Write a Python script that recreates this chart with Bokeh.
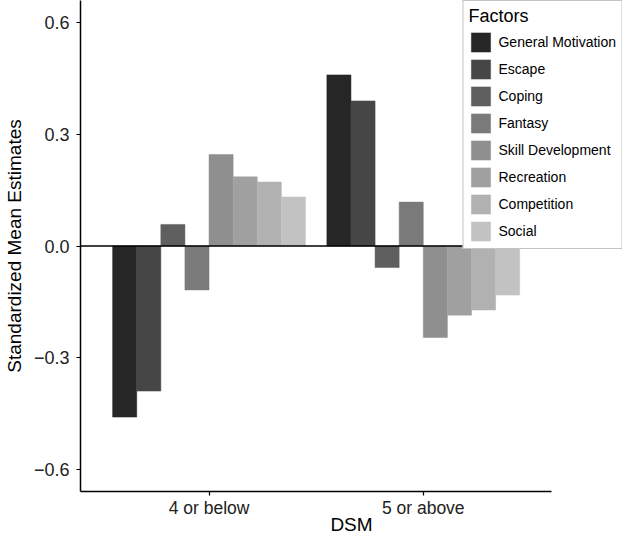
from bokeh.plotting import figure
from bokeh.models import (Range1d, FixedTicker, CustomJSTickFormatter,
                          ColumnDataSource)
from bokeh.transform import dodge
from bokeh.embed import file_html
from bokeh.resources import INLINE

# ---- data ----
dsm_groups = ["4 or below", "5 or above"]
factors = ["General Motivation", "Escape", "Coping", "Fantasy",
           "Skill Development", "Recreation", "Competition", "Social"]
values_4_or_below = [-0.46, -0.39, 0.058, -0.118, 0.246, 0.186, 0.172, 0.132]
values_5_or_above = [0.46, 0.39, -0.058, 0.118, -0.246, -0.186, -0.172, -0.132]
y_ticks = [-0.6, -0.3, 0.0, 0.3, 0.6]
fill_colors = ["#262626", "#464646", "#5f5f5f", "#7a7a7a",
               "#8f8f8f", "#a0a0a0", "#b1b1b1", "#c2c2c2"]

FONT = "Liberation Sans"

group_pos = list(range(1, len(dsm_groups) + 1))   # discrete positions 1, 2
data = {"pos": group_pos}
for i in range(len(factors)):
    data[f"f{i}"] = [values_4_or_below[i], values_5_or_above[i]]
src = ColumnDataSource(data)

x_lo, x_hi = 0.4, len(dsm_groups) + 0.6          # ggplot-style discrete expansion
p = figure(
    x_range=Range1d(x_lo, x_hi + 0.33),
    y_range=Range1d(-0.66, 0.66),
    width=622, height=537,
    output_backend="svg", toolbar_location=None,
    min_border_left=76, min_border_right=0, min_border_top=0, min_border_bottom=30,
)

n = len(factors)
dodge_total = 0.9
bar_w = dodge_total / n
for i, f in enumerate(factors):
    off = -dodge_total / 2 + bar_w * (i + 0.5)
    p.vbar(x=dodge("pos", off), top=f"f{i}", bottom=0,
           width=bar_w, source=src, fill_color=fill_colors[i],
           line_color=fill_colors[i], line_width=0.5, legend_label=f)

# zero reference line across the panel
p.segment(x0=[x_lo], x1=[x_hi], y0=[0], y1=[0], line_color="black", line_width=1.5)

# styling
p.grid.visible = False
p.outline_line_color = None
p.background_fill_color = "white"
p.border_fill_color = "white"

for ax in (p.xaxis, p.yaxis):
    ax.axis_line_color = "black"
    ax.axis_line_width = 1.5
    ax.major_tick_line_color = "black"
    ax.major_tick_line_width = 1.2
    ax.major_tick_out = 4
    ax.major_tick_in = 0
    ax.minor_tick_line_color = None
    ax.major_label_text_font = FONT
    ax.major_label_text_font_size = "18px"
    ax.major_label_text_color = "#222222"
    ax.axis_label_text_font = FONT
    ax.axis_label_text_font_size = "19px"
    ax.axis_label_text_font_style = "normal"
    ax.axis_label_text_color = "black"

p.xaxis.bounds = (x_lo, x_hi)
p.xaxis.ticker = FixedTicker(ticks=group_pos)
p.xaxis.major_label_overrides = {pos: g for pos, g in zip(group_pos, dsm_groups)}
p.xaxis.major_label_text_font_size = "17.5px"
p.xaxis.axis_label = "DSM"
p.xaxis.major_label_standoff = 2
p.xaxis.axis_label_standoff = -7

p.yaxis.axis_label = "Standardized Mean Estimates"
p.yaxis.major_label_standoff = 7
p.yaxis.axis_label_standoff = 6
p.yaxis.ticker = FixedTicker(ticks=y_ticks)
p.yaxis.formatter = CustomJSTickFormatter(
    code="return (tick < 0 ? '\u2212' : '') + Math.abs(tick).toFixed(1);")

lg = p.legend[0]
lg.title = "Factors"
lg.title_text_font = FONT
lg.title_text_font_size = "18px"
lg.title_text_font_style = "normal"
lg.title_text_color = "black"
lg.title_standoff = 3
lg.label_text_font = FONT
lg.label_text_font_size = "14px"
lg.label_text_color = "black"
lg.glyph_width = 24
lg.glyph_height = 24
lg.label_height = 24
lg.label_standoff = 6
lg.spacing = 3
lg.padding = 5
lg.border_line_color = "#888888"
lg.border_line_width = 1
lg.background_fill_alpha = 1
lg.location = "top_right"
lg.margin = 0

open("out.html", "w").write(file_html(p, INLINE))
